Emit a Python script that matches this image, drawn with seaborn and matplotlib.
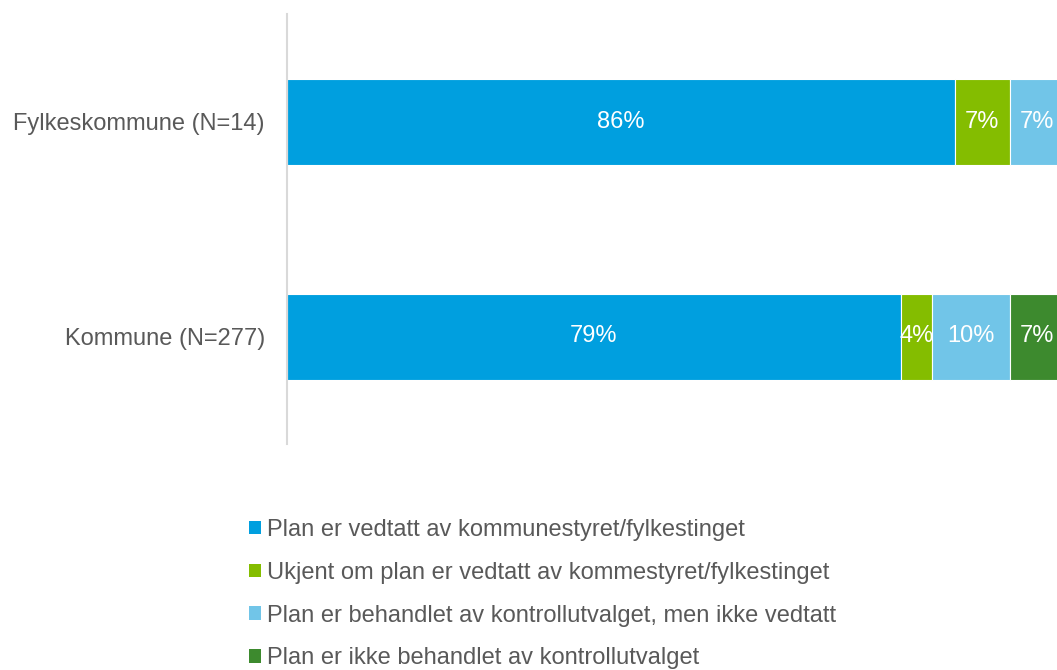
import matplotlib
matplotlib.use("Agg")
import matplotlib.pyplot as plt
import seaborn as sns
import pandas as pd
from matplotlib.patches import Patch

categories = ["Fylkeskommune (N=14)", "Kommune (N=277)"]
series_names = [
    "Plan er vedtatt av kommunestyret/fylkestinget",
    "Ukjent om plan er vedtatt av kommestyret/fylkestinget",
    "Plan er behandlet av kontrollutvalget, men ikke vedtatt",
    "Plan er ikke behandlet av kontrollutvalget",
]
vedtatt = [86, 79]
ukjent = [7, 4]
behandlet = [7, 10]
ikke_behandlet = [0, 7]
colors = ["#009FDF", "#84BD00", "#71C5E8", "#3D8A2E"]

sns.set_theme(style="white")
plt.rcParams["font.family"] = ["Liberation Sans", "DejaVu Sans"]
text_color = "#595959"
fs = 17

fig = plt.figure(figsize=(10.57, 6.70), dpi=100)
ax = fig.add_axes([287/1057, 1-444/670, 777/1057, 430/670])

series = [vedtatt, ukjent, behandlet, ikke_behandlet]
left = [0.0] * len(categories)
for name, vals, col in zip(series_names, series, colors):
    df = pd.DataFrame({"cat": categories, "val": vals})
    sns.barplot(data=df, x="val", y="cat", orient="h", color=col, width=0.4,
                left=left, edgecolor="white", linewidth=0.8, ax=ax, saturation=1)
    cont = ax.containers[-1]
    labels = [f"{v}%" if v > 0 else "" for v in vals]
    ax.bar_label(cont, labels=labels, label_type="center", color="white", fontsize=fs)
    left = [l + v for l, v in zip(left, vals)]

ax.set_xlim(0, 100)
ax.set_ylim(1.5, -0.5)
ax.set_xlabel("")
ax.set_ylabel("")
ax.set_xticks([])
for s in ["top", "right", "bottom"]:
    ax.spines[s].set_visible(False)
ax.spines["left"].set_color("#D9D9D9")
ax.spines["left"].set_linewidth(1.5)
ax.tick_params(axis="y", length=0, pad=16, labelsize=fs, labelcolor=text_color)

handles = [Patch(facecolor=c, edgecolor="none") for c in colors]
fig.legend(handles, series_names, loc="upper left", bbox_to_anchor=(249/1057, 1-519/670),
           frameon=False, fontsize=fs, labelcolor=text_color, handlelength=0.5,
           handleheight=0.5, handletextpad=0.25, labelspacing=0.88, borderaxespad=0, borderpad=0)

fig.savefig("out.png", dpi=100)
